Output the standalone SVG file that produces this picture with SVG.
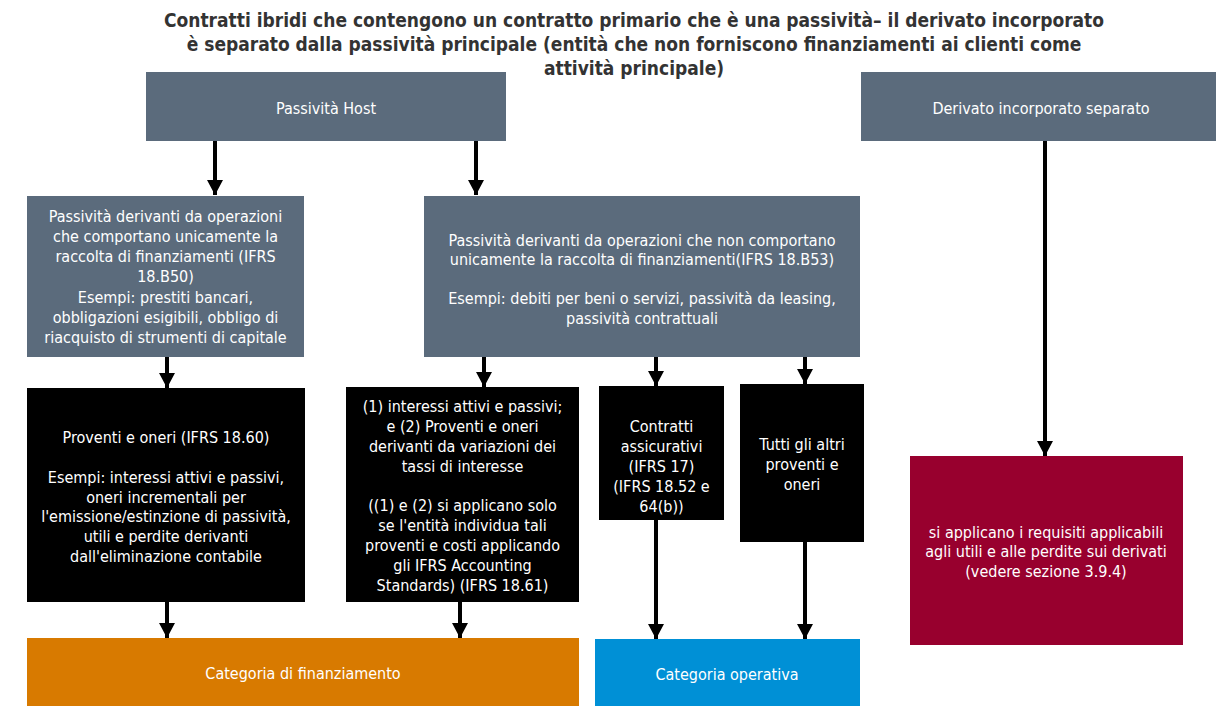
<svg xmlns="http://www.w3.org/2000/svg" width="1216" height="706" viewBox="0 0 1216 706">
  <defs>
    <marker id="arrow" markerUnits="userSpaceOnUse" markerWidth="16" markerHeight="16" refX="15" refY="8" orient="auto">
      <path d="M0,0 L15,8 L0,16 z" fill="#000"/>
    </marker>
    <style>
      text { font-family: "DejaVu Sans Condensed", "DejaVu Sans", "Liberation Sans", sans-serif; }
      .title { font-size: 19px; font-weight: bold; fill: #333; text-anchor: middle; }
      .lbl { font-size: 16px; fill: #fff; text-anchor: middle; dominant-baseline: central; }
      .gray { fill: #5b6b7c; }
      .black { fill: #000; }
      .red { fill: #98002e; }
      .orange { fill: #d87a00; }
      .blue { fill: #0090d6; }
      .conn line { stroke: #000; stroke-width: 4; marker-end: url(#arrow); }
    </style>
  </defs>
  <rect width="1216" height="706" fill="#fff"/>

  <!-- heading -->
  <g id="title">
    <text class="title" x="634" y="27">Contratti ibridi che contengono un contratto primario che è una passività– il derivato incorporato</text>
    <text class="title" x="634" y="51">è separato dalla passività principale (entità che non forniscono finanziamenti ai clienti come</text>
    <text class="title" x="634" y="75">attività principale)</text>
  </g>

  <!-- connectors -->
  <g id="connectors" class="conn">
    <line x1="215" y1="141" x2="215" y2="195"/>
    <line x1="476" y1="141" x2="476" y2="195"/>
    <line x1="1045" y1="141" x2="1045" y2="456"/>
    <line x1="167" y1="357" x2="167" y2="388"/>
    <line x1="484" y1="357" x2="484" y2="387"/>
    <line x1="656" y1="357" x2="656" y2="386"/>
    <line x1="805" y1="357" x2="805" y2="384"/>
    <line x1="167" y1="602" x2="167" y2="638"/>
    <line x1="460" y1="602" x2="460" y2="638"/>
    <line x1="656" y1="520" x2="656" y2="639"/>
    <line x1="805" y1="542" x2="805" y2="639"/>
  </g>

  <g id="host">
    <rect class="gray" x="146" y="72" width="360" height="69"/>
    <text class="lbl" x="326" y="108">Passività Host</text>
  </g>

  <g id="derivato">
    <rect class="gray" x="861" y="72" width="355" height="69"/>
    <text class="lbl" x="1041" y="108">Derivato incorporato separato</text>
  </g>

  <g id="finanziamento-puro">
    <rect class="gray" x="27" y="196" width="277" height="161"/>
    <text class="lbl" x="165.5" y="216">Passività derivanti da operazioni</text>
    <text class="lbl" x="165.5" y="236.3">che comportano unicamente la</text>
    <text class="lbl" x="165.5" y="256.6">raccolta di finanziamenti (IFRS</text>
    <text class="lbl" x="165.5" y="276.9">18.B50)</text>
    <text class="lbl" x="165.5" y="297.2">Esempi: prestiti bancari,</text>
    <text class="lbl" x="165.5" y="317.5">obbligazioni esigibili, obbligo di</text>
    <text class="lbl" x="165.5" y="337.8">riacquisto di strumenti di capitale</text>
  </g>

  <g id="non-finanziamento">
    <rect class="gray" x="424" y="196" width="436" height="161"/>
    <text class="lbl" x="642" y="240">Passività derivanti da operazioni che non comportano</text>
    <text class="lbl" x="642" y="259.5">unicamente la raccolta di finanziamenti(IFRS 18.B53)</text>
    <text class="lbl" x="642" y="298.5">Esempi: debiti per beni o servizi, passività da leasing,</text>
    <text class="lbl" x="642" y="318">passività contrattuali</text>
  </g>

  <g id="proventi-oneri">
    <rect class="black" x="27" y="388" width="278" height="214"/>
    <text class="lbl" x="166" y="437">Proventi e oneri (IFRS 18.60)</text>
    <text class="lbl" x="166" y="477">Esempi: interessi attivi e passivi,</text>
    <text class="lbl" x="166" y="497">oneri incrementali per</text>
    <text class="lbl" x="166" y="516.5">l'emissione/estinzione di passività,</text>
    <text class="lbl" x="166" y="536">utili e perdite derivanti</text>
    <text class="lbl" x="166" y="556">dall'eliminazione contabile</text>
  </g>

  <g id="interessi">
    <rect class="black" x="346" y="387" width="233" height="215"/>
    <text class="lbl" x="462.5" y="406">(1) interessi attivi e passivi;</text>
    <text class="lbl" x="462.5" y="426">e (2) Proventi e oneri</text>
    <text class="lbl" x="462.5" y="446">derivanti da variazioni dei</text>
    <text class="lbl" x="462.5" y="466">tassi di interesse</text>
    <text class="lbl" x="462.5" y="505">((1) e (2) si applicano solo</text>
    <text class="lbl" x="462.5" y="525">se l'entità individua tali</text>
    <text class="lbl" x="462.5" y="545">proventi e costi applicando</text>
    <text class="lbl" x="462.5" y="565">gli IFRS Accounting</text>
    <text class="lbl" x="462.5" y="585">Standards) (IFRS 18.61)</text>
  </g>

  <g id="assicurativi">
    <rect class="black" x="599" y="386" width="125" height="134"/>
    <text class="lbl" x="661.5" y="426">Contratti</text>
    <text class="lbl" x="661.5" y="446">assicurativi</text>
    <text class="lbl" x="661.5" y="466">(IFRS 17)</text>
    <text class="lbl" x="661.5" y="486">(IFRS 18.52 e</text>
    <text class="lbl" x="661.5" y="506">64(b))</text>
  </g>

  <g id="altri">
    <rect class="black" x="740" y="384" width="124" height="158"/>
    <text class="lbl" x="802" y="444">Tutti gli altri</text>
    <text class="lbl" x="802" y="464">proventi e</text>
    <text class="lbl" x="802" y="484">oneri</text>
  </g>

  <g id="derivati">
    <rect class="red" x="910" y="456" width="273" height="189"/>
    <text class="lbl" x="1046" y="532">si applicano i requisiti applicabili</text>
    <text class="lbl" x="1046" y="551.5">agli utili e alle perdite sui derivati</text>
    <text class="lbl" x="1046" y="571">(vedere sezione 3.9.4)</text>
  </g>

  <g id="cat-finanziamento">
    <rect class="orange" x="27" y="638" width="552" height="68"/>
    <text class="lbl" x="303" y="673">Categoria di finanziamento</text>
  </g>

  <g id="cat-operativa">
    <rect class="blue" x="595" y="639" width="265" height="67"/>
    <text class="lbl" x="727" y="674">Categoria operativa</text>
  </g>
</svg>
